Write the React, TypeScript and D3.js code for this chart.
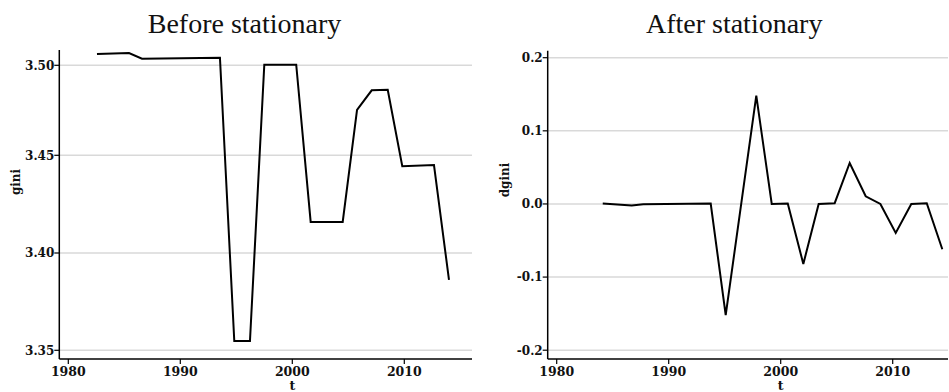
import React from "react";
import * as d3 from "d3";

// ---- Data ----
const beforeT = [1982.56, 1985.42, 1986.58, 1993.54, 1994.82, 1996.22, 1997.5, 2000.35, 2001.64, 2004.5, 2005.78, 2007.09, 2008.52, 2009.82, 2012.65, 2013.99];
const beforeGini = [3.5063, 3.5068, 3.5037, 3.5042, 3.3548, 3.3548, 3.5003, 3.5003, 3.4159, 3.4159, 3.4752, 3.4861, 3.4864, 3.4444, 3.445, 3.3862];

const afterT = [1984.11, 1986.7, 1987.73, 1993.75, 1995.09, 1997.82, 1999.2, 2000.63, 2002.02, 2003.39, 2004.82, 2006.16, 2007.59, 2008.9, 2010.27, 2011.66, 2013.04, 2014.43];
const afterDgini = [0.0005, -0.002, -0.0005, 0.0005, -0.152, 0.148, 0.0, 0.0005, -0.082, 0.0, 0.001, 0.056, 0.0105, 0.0, -0.0397, 0.0, 0.001, -0.062];

const xTicks = [1980, 1990, 2000, 2010];
const beforeYTicks = [3.35, 3.4, 3.45, 3.5];
const afterYTicks = [-0.2, -0.1, 0.0, 0.1, 0.2];

const titles = ["Before stationary", "After stationary"];
const yLabels = ["gini", "dgini"];
const xLabel = "t";

const W = 949;
const H = 392;
const TICK_FONT = "'DejaVu Serif', serif";
const TITLE_FONT = "'Liberation Serif', 'Times New Roman', serif";

type PanelProps = {
  t: number[];
  v: number[];
  x: d3.ScaleLinear<number, number>;
  y: d3.ScaleLinear<number, number>;
  yTicks: number[];
  fmt: (n: number) => string;
  left: number;
  right: number;
  top: number;
  bottom: number;
  title: string;
  titleX: number;
  yLabel: string;
  yLabelX: number;
  yLabelY: number;
};

function Panel(p: PanelProps) {
  const line = d3
    .line<number>()
    .x((_, i) => p.x(p.t[i]))
    .y((d) => p.y(d));
  return (
    <g>
      <text x={p.titleX} y={33} textAnchor="middle" fontFamily={TITLE_FONT} fontSize={28} fill="#111">
        {p.title}
      </text>
      {p.yTicks.map((tv) => (
        <g key={"g" + tv}>
          <line x1={p.left} x2={p.right} y1={p.y(tv)} y2={p.y(tv)} stroke="#d9d9d9" strokeWidth={1.5} />
          <line x1={p.left - 5} x2={p.left} y1={p.y(tv)} y2={p.y(tv)} stroke="#000" strokeWidth={1.2} />
          <text x={p.left - 5} y={p.y(tv)} dy="0.36em" textAnchor="end" fontFamily={TICK_FONT} fontWeight="bold" fontSize={12} fill="#111">
            {p.fmt(tv)}
          </text>
        </g>
      ))}
      {xTicks.map((tv) => (
        <g key={"x" + tv}>
          <line x1={p.x(tv)} x2={p.x(tv)} y1={p.bottom} y2={p.bottom + 5} stroke="#000" strokeWidth={1.2} />
          <text x={p.x(tv)} y={376} textAnchor="middle" fontFamily={TICK_FONT} fontWeight="bold" fontSize={12.5} fill="#111">
            {tv}
          </text>
        </g>
      ))}
      <line x1={p.left} x2={p.left} y1={p.top} y2={p.bottom} stroke="#000" strokeWidth={1.5} />
      <line x1={p.left} x2={p.right} y1={p.bottom} y2={p.bottom} stroke="#000" strokeWidth={1.5} />
      <path d={line(p.v) || ""} fill="none" stroke="#000" strokeWidth={2} strokeLinejoin="miter" />
      <text
        transform={`translate(${p.yLabelX},${p.yLabelY}) rotate(-90)`}
        textAnchor="middle"
        fontFamily={TICK_FONT}
        fontWeight="bold"
        fontSize={12}
        fill="#111"
      >
        {p.yLabel}
      </text>
      <text x={p.x(2000)} y={390} textAnchor="middle" fontFamily={TICK_FONT} fontWeight="bold" fontSize={12.5} fill="#111">
        {xLabel}
      </text>
    </g>
  );
}

const hyphen = (s: string) => s.replace("\u2212", "-");

export default function App() {
  const xL = d3.scaleLinear().domain([1980, 2010]).range([68.3, 404.3]);
  const yL = d3.scaleLinear().domain([3.35, 3.4, 3.45, 3.5]).range([350.3, 253, 155.3, 65.3]);
  const xR = d3.scaleLinear().domain([1980, 2010]).range([556.7, 892.7]);
  const yR = d3.scaleLinear().domain([-0.2, 0.2]).range([350.2, 57.7]);
  const f2 = d3.format(".2f");
  const f1 = d3.format(".1f");
  return (
    <svg
      width={W}
      height={H}
      style={{ position: "absolute", left: 0, top: 0, background: "#fff" }}
    >
      <rect width={W} height={H} fill="#fff" />
      <Panel
        t={beforeT}
        v={beforeGini}
        x={xL}
        y={yL}
        yTicks={beforeYTicks}
        fmt={(n) => hyphen(f2(n))}
        left={59.3}
        right={472}
        top={50}
        bottom={359}
        title={titles[0]}
        titleX={244.5}
        yLabel={yLabels[0]}
        yLabelX={19.5}
        yLabelY={182}
      />
      <Panel
        t={afterT}
        v={afterDgini}
        x={xR}
        y={yR}
        yTicks={afterYTicks}
        fmt={(n) => hyphen(f1(n))}
        left={547.7}
        right={948}
        top={50.7}
        bottom={359}
        title={titles[1]}
        titleX={734.2}
        yLabel={yLabels[1]}
        yLabelX={508.5}
        yLabelY={180}
      />
    </svg>
  );
}
